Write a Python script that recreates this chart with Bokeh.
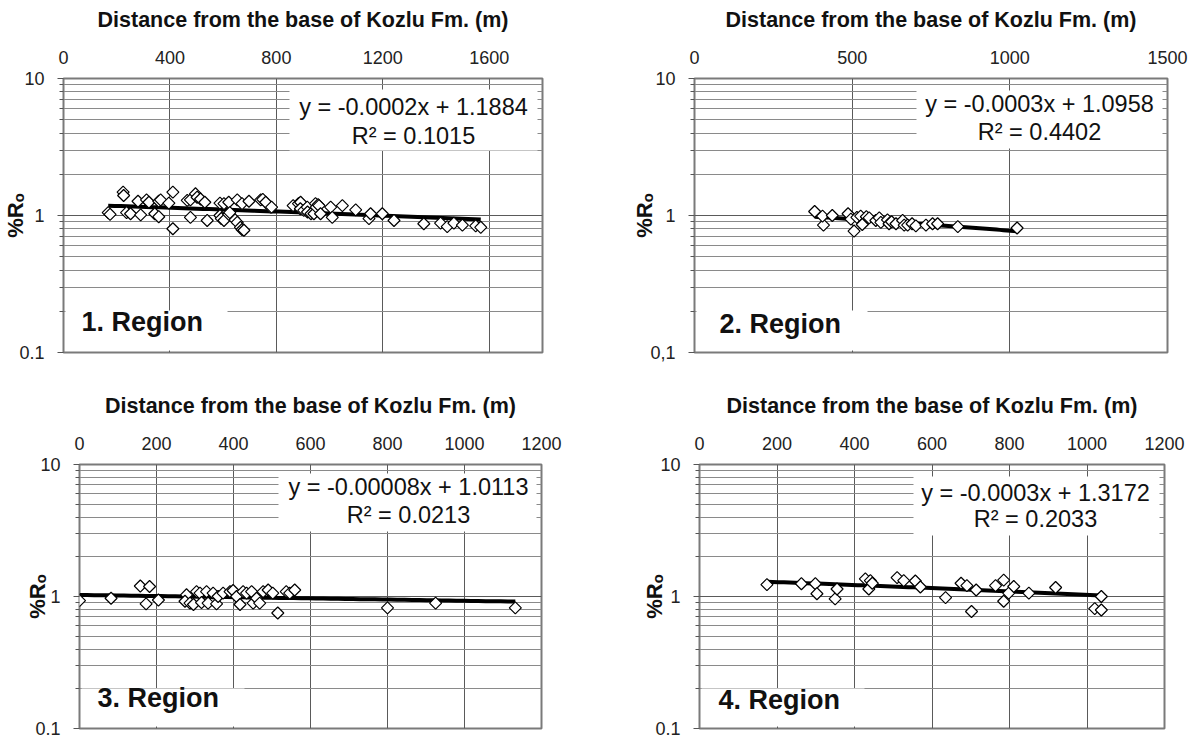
import numpy as np
from bokeh.plotting import figure
from bokeh.models import Range1d, FixedTicker, Label, BoxAnnotation
from bokeh.layouts import column, row
from bokeh.embed import file_html
from bokeh.resources import INLINE

FONT = "Liberation Sans"
x_title = "Distance from the base of Kozlu Fm. (m)"
y_title = "%Rₒ"
y_ticks = [0.1, 1, 10]
y_minor = [0.2, 0.3, 0.4, 0.5, 0.6, 0.7, 0.8, 0.9, 2, 3, 4, 5, 6, 7, 8, 9]

# ---------------- Region 1 ----------------
r1_name = "1. Region"
r1_eq = "y = -0.0002x + 1.1884"
r1_r2 = "R² = 0.1015"
r1_xticks = [0, 400, 800, 1200, 1600]
r1_xmax = 1800
r1_ylabels = ["0.1", "1", "10"]
r1_x = [168, 175, 224, 226, 237, 252, 280, 290, 312, 321, 343, 358, 365, 358, 396, 411, 411,
        465, 477, 496, 502, 515, 531, 477, 540, 588, 603, 621, 588, 593, 603, 653, 671, 697,
        741, 778, 640, 653, 665, 671, 678, 621, 625, 749, 760, 782, 863, 883, 891, 890, 903,
        916, 917, 930, 941, 947, 950, 957, 960, 966, 1004, 1010, 1048, 1098, 1148, 1154,
        1198, 1242, 1354, 1417, 1442, 1467, 1499, 1549, 1568]
r1_y = [1.05, 1.02, 1.48, 1.40, 1.05, 1.03, 1.27, 1.01, 1.30, 1.25, 1.03, 1.27, 1.30, 0.98,
        1.23, 1.48, 0.80, 1.29, 1.30, 1.44, 1.36, 1.32, 1.25, 0.97, 0.92, 1.23, 1.22, 1.25,
        1.00, 0.95, 0.92, 1.30, 1.22, 1.27, 1.30, 1.15, 0.95, 0.89, 0.82, 0.79, 0.78, 1.02,
        1.05, 1.31, 1.25, 1.15, 1.18, 1.22, 1.25, 1.12, 1.09, 1.15, 1.06, 1.03, 1.03, 1.22,
        1.15, 1.20, 1.18, 1.03, 1.15, 0.97, 1.18, 1.10, 0.95, 1.03, 1.03, 0.92, 0.87, 0.88,
        0.83, 0.88, 0.85, 0.84, 0.82]
r1_trend = (-0.000175, 1.209)

# ---------------- Region 2 ----------------
r2_name = "2. Region"
r2_eq = "y = -0.0003x + 1.0958"
r2_r2 = "R² = 0.4402"
r2_xticks = [0, 500, 1000, 1500]
r2_xmax = 1500
r2_ylabels = ["0,1", "1", "10"]
r2_x = [381, 409, 406, 437, 487, 506, 496, 515, 527, 538, 545, 554, 532, 575, 586, 591, 612,
        617, 625, 639, 660, 665, 676, 690, 702, 734, 755, 771, 835, 1023]
r2_y = [1.07, 0.85, 0.99, 1.00, 1.03, 0.77, 0.94, 0.97, 0.99, 0.89, 0.98, 0.96, 0.86, 0.92,
        0.96, 0.89, 0.93, 0.87, 0.90, 0.87, 0.92, 0.85, 0.85, 0.87, 0.84, 0.85, 0.87, 0.87,
        0.83, 0.81]
r2_trend = (-0.00033, 1.105)

# ---------------- Region 3 ----------------
r3_name = "3. Region"
r3_eq = "y = -0.00008x + 1.0113"
r3_r2 = "R² = 0.0213"
r3_xticks = [0, 200, 400, 600, 800, 1000, 1200]
r3_xmax = 1200
r3_ylabels = ["0.1", "1", "10"]
r3_x = [0, 82, 158, 182, 173, 205, 278, 274, 287, 296, 304, 313, 317, 330, 334, 347, 356, 360,
        373, 391, 399, 408, 417, 425, 434, 447, 451, 460, 468, 477, 490, 502, 515, 537, 546,
        559, 800, 925, 1132]
r3_y = [0.93, 0.97, 1.20, 1.19, 0.88, 0.94, 1.03, 0.92, 0.89, 0.87, 1.09, 1.06, 0.90, 1.09,
        0.89, 1.06, 0.88, 1.00, 1.06, 1.09, 1.11, 1.00, 0.87, 1.09, 1.06, 1.09, 0.89, 0.97,
        0.89, 1.09, 1.12, 1.06, 0.75, 1.09, 1.06, 1.12, 0.82, 0.89, 0.82]
r3_trend = (-0.0001, 1.028)

# ---------------- Region 4 ----------------
r4_name = "4. Region"
r4_eq = "y = -0.0003x + 1.3172"
r4_r2 = "R² = 0.2033"
r4_xticks = [0, 200, 400, 600, 800, 1000, 1200]
r4_xmax = 1200
r4_ylabels = ["0.1", "1", "10"]
r4_x = [174, 263, 299, 303, 350, 355, 428, 441, 437, 446, 510, 527, 557, 570, 635, 675, 690,
        702, 714, 764, 785, 785, 798, 811, 850, 919, 1020, 1037, 1037]
r4_y = [1.23, 1.25, 1.25, 1.05, 0.96, 1.14, 1.36, 1.32, 1.14, 1.26, 1.39, 1.32, 1.31, 1.18,
        0.98, 1.26, 1.21, 0.77, 1.12, 1.21, 1.33, 0.92, 1.06, 1.19, 1.06, 1.17, 0.81, 1.00,
        0.79]
r4_trend = (-0.00032, 1.35)


def panel(xs, ys, xticks, xmax, ylabels, trend, name, eq, r2, w, h, borders, ylab_standoff, geo):
    bl, br, bt, bb = borders
    p = figure(width=w, height=h, x_range=Range1d(0, xmax), y_range=Range1d(0.1, 10),
               y_axis_type="log", x_axis_location="above", output_backend="svg",
               toolbar_location=None, min_border=0)
    p.min_border_left, p.min_border_right = bl, br
    p.min_border_top, p.min_border_bottom = bt, bb
    p.background_fill_color = "white"
    p.border_fill_color = "white"
    p.outline_line_color = "#7a7a7a"
    p.outline_line_width = 2

    xa = p.xaxis[0]
    xa.ticker = FixedTicker(ticks=xticks)
    xa.axis_label = x_title
    xa.axis_label_text_font = FONT
    xa.axis_label_text_font_style = "bold"
    xa.axis_label_text_font_size = "21.5px"
    xa.axis_label_text_color = "#111111"
    xa.axis_label_standoff = 16
    xa.major_label_text_font = FONT
    xa.major_label_text_font_size = "18px"
    xa.major_label_text_color = "#222222"
    xa.major_label_standoff = 15
    xa.major_tick_out = 0
    xa.major_tick_in = 0
    xa.minor_tick_out = 0
    xa.axis_line_color = None

    ya = p.yaxis[0]
    ya.ticker = FixedTicker(ticks=y_ticks, minor_ticks=y_minor)
    ya.major_label_overrides = {t: s for t, s in zip(y_ticks, ylabels)}
    ya.major_label_text_font = FONT
    ya.major_label_text_font_size = "18px"
    ya.major_label_text_color = "#222222"
    ya.major_label_standoff = 13
    ya.major_tick_out = 6
    ya.major_tick_in = 0
    ya.minor_tick_out = 4
    ya.minor_tick_in = 0
    ya.major_tick_line_color = "#555555"
    ya.minor_tick_line_color = "#555555"
    ya.axis_line_color = None
    ya.axis_label = y_title
    ya.axis_label_text_font = FONT
    ya.axis_label_text_font_style = "bold"
    ya.axis_label_text_font_size = "22px"
    ya.axis_label_text_color = "#111111"
    ya.axis_label_standoff = ylab_standoff

    p.xgrid.grid_line_color = "#5a5a5a"
    p.xgrid.grid_line_width = 1
    p.ygrid.grid_line_color = "#5a5a5a"
    p.ygrid.minor_grid_line_color = "#8a8a8a"
    p.ygrid.minor_grid_line_width = 1

    # trend line
    slope, icpt = trend
    tx = np.linspace(min(xs), max(xs), 60)
    p.line(tx, slope * tx + icpt, line_color="black", line_width=4)
    # data points
    p.scatter(xs, ys, marker="square", angle=np.pi / 4, size=8.5, fill_color="white",
              line_color="black", line_width=1.2)

    eqx, eqy1, eqy2, ebox, rx, ry, rbox = geo
    p.add_layout(BoxAnnotation(left=ebox[0], right=ebox[1], bottom=ebox[2], top=ebox[3],
                               left_units="screen", right_units="screen",
                               bottom_units="screen", top_units="screen",
                               fill_color="white", fill_alpha=1, line_color=None))
    p.add_layout(BoxAnnotation(left=rbox[0], right=rbox[1], bottom=rbox[2], top=rbox[3],
                               left_units="screen", right_units="screen",
                               bottom_units="screen", top_units="screen",
                               fill_color="white", fill_alpha=1, line_color=None))
    for txt, yy in ((eq, eqy1), (r2, eqy2)):
        p.add_layout(Label(x=eqx, y=yy, x_units="screen", y_units="screen", text=txt,
                           text_font=FONT, text_font_size="23.5px", text_color="#111111",
                           text_align="center", text_baseline="middle"))
    p.add_layout(Label(x=rx, y=ry, x_units="screen", y_units="screen", text=name,
                       text_font=FONT, text_font_size="27px", text_font_style="bold",
                       text_color="#111111", text_align="left", text_baseline="middle"))
    return p


p1 = panel(r1_x, r1_y, r1_xticks, r1_xmax, r1_ylabels, r1_trend, r1_name, r1_eq, r1_r2,
           608, 384, (63, 66, 78, 32), -12,
           (350, 245.6, 217, (226, 474, 202, 263), 18, 31, (2, 164, 2, 42)))
p2 = panel(r2_x, r2_y, r2_xticks, r2_xmax, r2_ylabels, r2_trend, r2_name, r2_eq, r2_r2,
           584, 384, (86, 25, 78, 32), -10,
           (345, 248.5, 221, (222, 468, 204, 262), 25, 29, (2, 173, 2, 42)))
p3 = panel(r3_x, r3_y, r3_xticks, r3_xmax, r3_ylabels, r3_trend, r3_name, r3_eq, r3_r2,
           608, 354, (79, 67, 80, 10), -18,
           (329, 241.7, 213.3, (199, 457, 197, 255), 18, 31, (2, 165, 2, 40)))
p4 = panel(r4_x, r4_y, r4_xticks, r4_xmax, r4_ylabels, r4_trend, r4_name, r4_eq, r4_r2,
           584, 354, (91, 28, 80, 10), -15,
           (336, 235.3, 209.5, (214, 460, 193, 252), 19, 29, (2, 165, 2, 40)))

layout = column(row(p1, p2), row(p3, p4))
open("out.html", "w").write(file_html(layout, INLINE))
